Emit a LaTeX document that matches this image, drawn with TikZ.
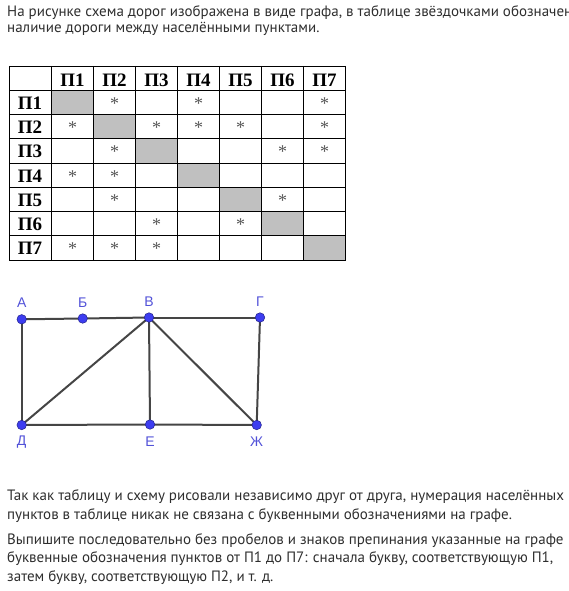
\documentclass[tikz,border=0pt]{standalone}
\usepackage{fontspec}
\setmainfont{Liberation Serif}
\newfontfamily\txtfont{PT Sans}
\newfontfamily\lblfont{Liberation Sans}
\definecolor{txtc}{HTML}{2E2E2E}
\definecolor{cellgray}{HTML}{C0C0C0}
\definecolor{stargray}{HTML}{555555}
\definecolor{edgec}{HTML}{454545}
\definecolor{dotc}{HTML}{3D3DF0}
\definecolor{dotline}{HTML}{22228A}
\definecolor{lblc}{HTML}{5252D8}
\pgfdeclarelayer{edges}
\pgfsetlayers{edges,main}
\begin{document}
\begin{tikzpicture}[x=1pt,y=-1pt,
  para/.style={anchor=base west,inner sep=0pt,font=\txtfont\fontsize{15}{18}\selectfont,text=txtc},
  hdr/.style={anchor=base,inner sep=0pt,font=\bfseries\fontsize{19}{22}\selectfont},
  star/.style={anchor=base,inner sep=0pt,font=\fontsize{18}{22}\selectfont,text=stargray},
  grid/.style={line width=0.9pt,black},
  vtx/.style={circle,fill=dotc,draw=dotline,line width=0.5pt,minimum size=9.5pt,inner sep=0pt},
  road/.style={line width=2pt,edgec},
  lbl/.style={inner sep=0pt,font=\lblfont\fontsize{14}{16}\selectfont,text=lblc}]
\clip (0,0) rectangle (568,591);

% text above
\node[para] (t1) at (7,17) {На рисунке схема дорог изображена в виде графа, в таблице звёздочками обозначено};
\node[para] (t2) at (7,33) {наличие дороги между населёнными пунктами.};

% table
\foreach \i in {1,...,7}{
  \fill[cellgray] ({51.5+42*(\i-1)},{66+24.25*\i}) rectangle ({51.5+42*\i},{66+24.25*(\i+1)});
}
\foreach \k in {0,...,8}{
  \draw[grid] (9,{66+24.25*\k}) -- (345.5,{66+24.25*\k});
}
\draw[grid] (9,66) -- (9,260);
\foreach \k in {0,...,7}{
  \draw[grid] ({51.5+42*\k},66) -- ({51.5+42*\k},260);
}
\foreach \i in {1,...,7}{
  \node[hdr] (h\i) at ({72.5+42*(\i-1)},86.5) {П\i};
  \node[hdr] (r\i) at (30,{66+24.25*\i+19}) {П\i};
}
\foreach \r/\c in {1/2,1/4,1/7,2/1,2/3,2/4,2/5,2/7,3/2,3/6,3/7,4/1,4/2,5/2,5/6,6/3,6/5,7/1,7/2,7/3}{
  \node[star] (s\r\c) at ({72.5+42*(\c-1)},{66+24.25*\r+19}) {*};
}

% graph
\node[vtx] (A) at (21.7,319.3) {};
\node[vtx] (B) at (82.7,318.5) {};
\node[vtx] (V) at (149,317.5) {};
\node[vtx] (G) at (260,317.5) {};
\node[vtx] (D) at (21.7,425) {};
\node[vtx] (E) at (150,424.5) {};
\node[vtx] (Zh) at (256.7,425) {};
\begin{pgfonlayer}{edges}
\draw[road] (A.center) -- (B.center);
\draw[road] (B.center) -- (V.center);
\draw[road] (V.center) -- (G.center);
\draw[road] (A.center) -- (D.center);
\draw[road] (D.center) -- (V.center);
\draw[road] (V.center) -- (E.center);
\draw[road] (V.center) -- (Zh.center);
\draw[road] (G.center) -- (Zh.center);
\draw[road] (D.center) -- (E.center);
\draw[road] (E.center) -- (Zh.center);
\end{pgfonlayer}
\node[lbl] (lA) at (21.7,302.5) {А};
\node[lbl] (lB) at (82.7,302.5) {Б};
\node[lbl] (lV) at (149,301.5) {В};
\node[lbl] (lG) at (260,302) {Г};
\node[lbl] (lD) at (21.7,442) {Д};
\node[lbl] (lE) at (150,442) {Е};
\node[lbl] (lZh) at (256.7,442) {Ж};

% text below
\node[para] (b1) at (7,500.5) {Так как таблицу и схему рисовали независимо друг от друга, нумерация населённых};
\node[para] (b2) at (7,519) {пунктов в таблице никак не связана с буквенными обозначениями на графе.};
\node[para] (b3) at (7,544) {Выпишите последовательно без пробелов и знаков препинания указанные на графе};
\node[para] (b4) at (7,562.5) {буквенные обозначения пунктов от П1 до П7: сначала букву, соответствующую П1,};
\node[para] (b5) at (7,581) {затем букву, соответствующую П2, и т. д.};
\end{tikzpicture}
\end{document}
